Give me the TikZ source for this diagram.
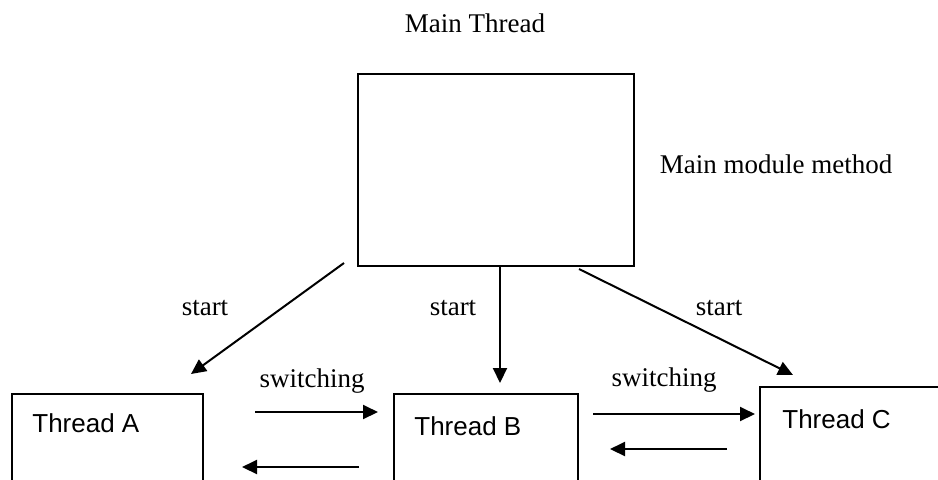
\documentclass[tikz,border=0pt]{standalone}
\usepackage{fontspec}
\setmainfont{Liberation Serif}
\newfontfamily\arialfont{Liberation Sans}
\usetikzlibrary{arrows.meta}
\begin{document}
\begin{tikzpicture}[x=0.5pt,y=-0.5pt]
\tikzstyle{blk}= [rectangle,draw,line width=1pt,inner sep=0pt,anchor=north west]
\tikzstyle{dep}= [-{Triangle[length=7.5pt,width=7pt]},line width=1pt]
\tikzstyle{lbl}= [inner sep=0pt,anchor=base,font=\fontsize{13.5}{16}\selectfont]
\tikzstyle{thr}= [inner sep=0pt,anchor=base west,font=\arialfont\fontsize{13}{16}\selectfont]
\useasboundingbox (0,0) rectangle (938,479);
\clip (0,0) rectangle (938,479);
% boxes, the lower ones run off the page
\path
	(357,73)  node[blk,minimum width=138pt,minimum height=96pt] (main) {}
	(11,393)  node[blk,minimum width=95.5pt,minimum height=70pt] (tha) {}
	(393,393) node[blk,minimum width=92pt,minimum height=70pt] (thb) {}
	(759,386) node[blk,minimum width=100pt,minimum height=70pt] (thc) {}
;
% texts
\path
	(475,32)  node[lbl] (title) {Main Thread}
	(776,173) node[lbl] (mmm) {Main module method}
	(205,315) node[lbl] (sta) {start}
	(453,315) node[lbl] (stb) {start}
	(719,315) node[lbl] (stc) {start}
	(312,387) node[lbl] (swa) {switching}
	(664,386) node[lbl] (swb) {switching}
	(32,432)  node[thr] (ta) {Thread A}
	(414,435) node[thr] (tb) {Thread B}
	(782,428) node[thr] (tc) {Thread C}
;
% start arrows
\draw[dep] ([shift={(-13,-4)}]main.south west) -- ([shift={(-13,-19)}]tha.north east);
\draw[dep] ([shift={(4,0)}]main.south) -- ([shift={(14,-10)}]thb.north);
\draw[dep] ([shift={(-56,2)}]main.south east) -- ([shift={(34,-11)}]thc.north west);
% switching arrows
\draw[dep] ([shift={(51,19)}]tha.north east) -- ([shift={(-15,19)}]thb.north west);
\draw[dep] ([shift={(-34,74)}]thb.north west) -- ([shift={(38,74)}]tha.north east);
\draw[dep] ([shift={(14,21)}]thb.north east) -- ([shift={(-4,28)}]thc.north west);
\draw[dep] ([shift={(-32,63)}]thc.north west) -- ([shift={(31,56)}]thb.north east);
\end{tikzpicture}
\end{document}
